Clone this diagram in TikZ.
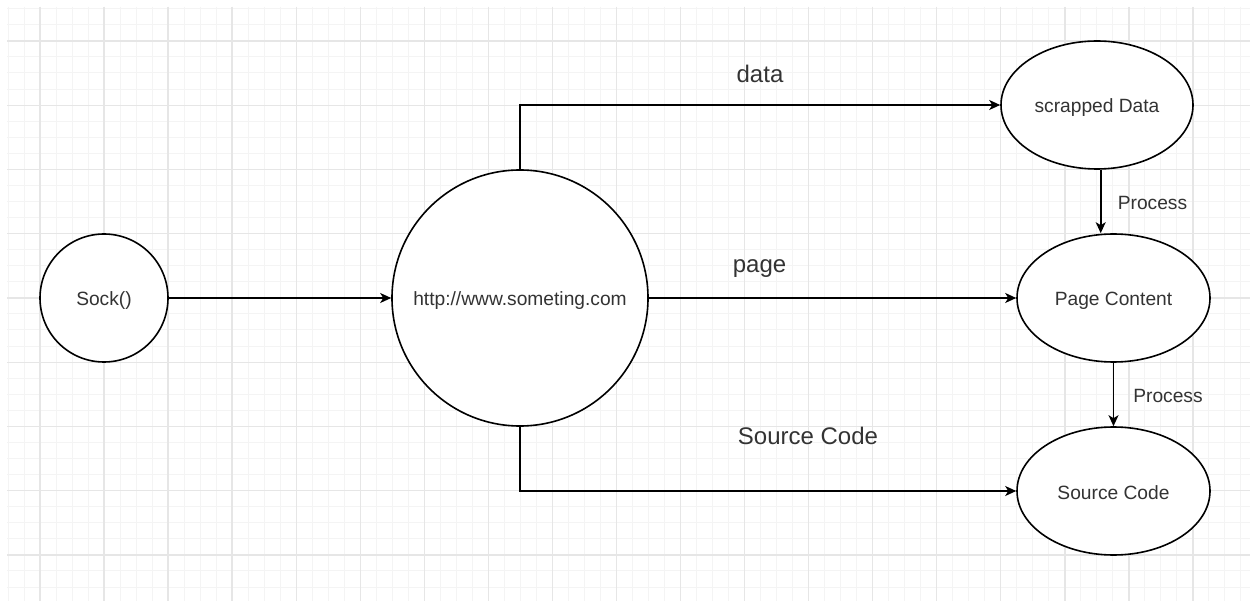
\documentclass[tikz,border=0pt]{standalone}
\usepackage{fontspec}
\setmainfont{Liberation Sans}
\usetikzlibrary{shapes.geometric,arrows.meta}

\definecolor{gridminor}{HTML}{F4F4F4}
\definecolor{gridmajor}{HTML}{E6E6E6}
\definecolor{labeltext}{HTML}{333333}

\tikzset{
  minorline/.style={draw=gridminor, line width=1pt},
  majorline/.style={draw=gridmajor, line width=1.4pt},
  shapeline/.style={draw=black, line width=1.6pt, fill=white, inner sep=0pt,
    text=labeltext, font=\fontsize{19.2}{23}\selectfont,
    text height=17.3pt, text depth=1.3pt},
  roundnode/.style={shapeline, circle},
  ovalnode/.style={shapeline, ellipse, minimum width=192pt, minimum height=128pt},
  flow/.style={draw=black, line width=1.6pt, -{Stealth[length=11pt,width=10pt,inset=3pt]}},
  edgetext/.style={text=labeltext, font=\fontsize{24}{28}\selectfont, anchor=base, inner sep=0pt},
  steptext/.style={text=labeltext, font=\fontsize{19.2}{23}\selectfont, anchor=base, inner sep=0pt}
}

\begin{document}
\begin{tikzpicture}[x=1pt,y=-1pt]
  \useasboundingbox (0,0) rectangle (1250,601);
  \fill[white] (0,0) rectangle (1250,601);

  % background grid: minor lines every 16px, major lines every 64px
  \foreach \i in {0,...,77}
    \draw[minorline] ({8+16.0125*\i},7) -- ({8+16.0125*\i},601);
  \foreach \j in {0,...,36}
    \draw[minorline] (7,{8.75+16.0625*\j}) -- (1250,{8.75+16.0625*\j});
  \foreach \k in {0,...,18}
    \draw[majorline] ({40+64.05*\k},7) -- ({40+64.05*\k},601);
  \foreach \k in {0,...,8}
    \draw[majorline] (7,{41+64.25*\k}) -- (1250,{41+64.25*\k});

  % nodes
  \node[roundnode, minimum size=128pt] (sock) at (104,298) {Sock()};
  \node[roundnode, minimum size=256pt] (web) at (520,298) {http://www.someting.com};
  \node[ovalnode] (sd) at (1097,105) {scrapped Data};
  \node[ovalnode, minimum width=193pt] (pc) at (1113.5,298) {Page Content};
  \node[ovalnode, minimum width=193pt] (sc) at (1113.5,491) {Source Code};

  % connectors
  \draw[flow] (sock) -- (web);
  \draw[flow] (web.north) |- (sd.west);
  \draw[flow] (web) -- (pc);
  \draw[flow] (web.south) |- (sc.west);
  \draw[flow] ([xshift=3.7pt]sd.south) -- ([xshift=3.7pt]sd.south |- pc.north);
  \draw[flow] (pc) -- (sc);

  % connector labels
  \node[edgetext] (ldata) at (760,82.3) {data};
  \node[edgetext] (lpage) at (759.5,272.5) {page};
  \node[edgetext] (lsrc) at (808,444) {Source Code};
  \node[steptext] (lproc1) at (1152.5,209.3) {Process};
  \node[steptext] (lproc2) at (1168,402.3) {Process};
\end{tikzpicture}
\end{document}
